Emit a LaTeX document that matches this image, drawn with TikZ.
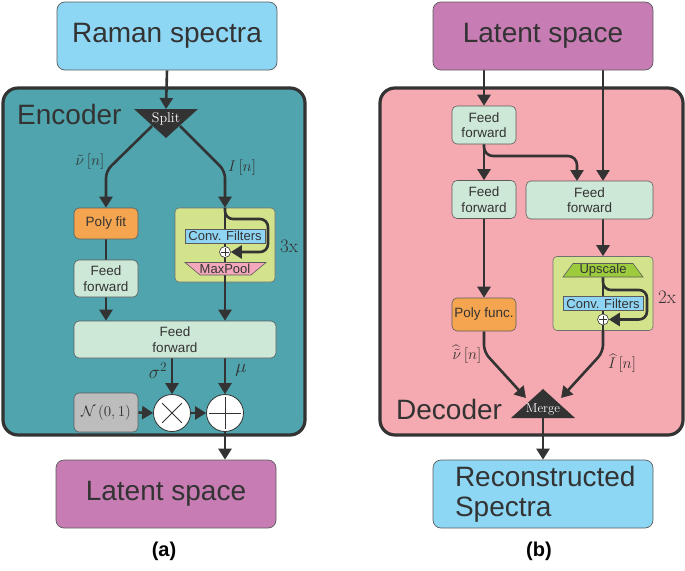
\RequirePackage{fix-cm}
\documentclass[tikz,border=0pt]{standalone}
\usepackage{amsmath}
\usepackage{fontspec}
\setsansfont{Liberation Sans}
\usetikzlibrary{arrows.meta,calc}
\pgfdeclarelayer{panel}
\pgfdeclarelayer{bg}
\pgfsetlayers{panel,bg,main}
\definecolor{cdark}{HTML}{333333}
\definecolor{cteal}{HTML}{4FA4AE}
\definecolor{cpinkp}{HTML}{F5A9B0}
\definecolor{cblue}{HTML}{8DD7F5}
\definecolor{cpurple}{HTML}{C77CB4}
\definecolor{cff}{HTML}{CDE8D6}
\definecolor{corange}{HTML}{F5A54F}
\definecolor{cblock}{HTML}{D3E38B}
\definecolor{cgray}{HTML}{BDBDBD}
\definecolor{cconv}{HTML}{8FD4F2}
\definecolor{cmax}{HTML}{F4A8BC}
\definecolor{cup}{HTML}{9DCB3E}
\tikzset{
  bigbox/.style={draw=cdark!80, line width=0.7pt, rounded corners=8pt, minimum width=220pt, minimum height=68pt, inner sep=0pt, text=cdark, font=\sffamily\fontsize{28}{30}\selectfont},
  smallbox/.style={draw=cdark!80, line width=0.6pt, rounded corners=5pt, minimum width=64pt, inner sep=0pt, text=cdark, align=center, font=\sffamily\fontsize{13.5}{15.5}\selectfont},
  panelbox/.style={draw=cdark, line width=3.2pt, rounded corners=15pt, inner sep=0pt},
  block/.style={draw=cdark!70, line width=0.6pt, fill=cblock, rounded corners=4pt, inner sep=0pt},
  convbox/.style={draw=cdark!80, line width=0.6pt, fill=cconv, minimum width=80pt, minimum height=14pt, inner sep=0pt, text=cdark, font=\sffamily\fontsize{13}{14}\selectfont},
  tinyop/.style={circle, draw=cdark, line width=0.6pt, fill=white, minimum size=11pt, inner sep=0pt},
  bigop/.style={circle, draw=cdark, line width=0.8pt, fill=white, minimum size=37pt, inner sep=0pt},
  lbl/.style={text=cdark, inner sep=0pt, font=\fontsize{15.5}{17}\selectfont},
  conn/.style={draw=cdark, line width=2.6pt},
  arr/.style={conn, -{Triangle[width=13pt,length=11pt]}},
  paneltitle/.style={text=cdark, inner sep=0pt, font=\sffamily\fontsize{28}{30}\selectfont},
}
\begin{document}
\begin{tikzpicture}[x=1pt,y=-1pt]
\useasboundingbox (0,0) rectangle (685,570);

% ---------------- Encoder ----------------
\node[bigbox, fill=cblue] (rs) at (167,36) {Raman spectra};
\begin{pgfonlayer}{panel}
\node[panelbox, fill=cteal, minimum width=302pt, minimum height=347pt] (enc) at (154,261.5) {};
\node[block, minimum width=100pt, minimum height=74pt] (cblk) at (225,245) {};
\end{pgfonlayer}
\node[paneltitle, anchor=west] (enct) at (17,114) {Encoder};

\fill[cdark] (134,109) -- (198,109) -- (166,138) -- cycle;
\node[text=white, inner sep=0pt, font=\fontsize{14}{15}\selectfont] (split) at (166,119) {Split};
\coordinate (splitT) at (166,109);
\coordinate (splitL) at (152,126);
\coordinate (splitR) at (180,126);

\node[smallbox, fill=corange, minimum height=31pt] (pf) at (106,223.5) {Poly fit};
\node[smallbox, fill=cff, minimum height=37pt] (ffa) at (106,278.5) {Feed\\forward};
\node[smallbox, fill=cff, minimum width=202pt, minimum height=37pt] (bigff) at (175,339.5) {Feed\\forward};
\node[convbox] (cf) at (225,236) {Conv. Filters};
\node[tinyop] (op1) at (225,252) {};
\draw[cdark, line width=0.6pt, shorten <=1.8pt, shorten >=1.8pt] (op1.north) -- (op1.south);
\draw[cdark, line width=0.6pt, shorten <=1.8pt, shorten >=1.8pt] (op1.west) -- (op1.east);
\filldraw[fill=cmax, draw=cdark!80, line width=0.6pt] (185,262.5) -- (266,262.5) -- (251,275) -- (200,275) -- cycle;
\node[text=cdark, inner sep=0pt, font=\sffamily\fontsize{13}{14}\selectfont] (mp) at (225,268.5) {MaxPool};
\node[text=cdark, inner sep=0pt, font=\fontsize{19}{22}\selectfont] (rep1) at (289,246) {3x};

\node[smallbox, fill=cgray, minimum height=39pt, font=\fontsize{15}{16}\selectfont] (nb) at (106,412.5) {$\mathcal{N}\left(0,1\right)$};
\node[bigop] (mul) at (172,413) {};
\node[bigop] (add) at (225,413) {};
\draw[cdark, line width=1pt, shorten <=5pt, shorten >=5pt] (mul.north west) -- (mul.south east);
\draw[cdark, line width=1pt, shorten <=5pt, shorten >=5pt] (mul.north east) -- (mul.south west);
\draw[cdark, line width=1pt, shorten <=3pt, shorten >=3pt] (add.north) -- (add.south);
\draw[cdark, line width=1pt, shorten <=3pt, shorten >=3pt] (add.west) -- (add.east);

\node[bigbox, fill=cpurple] (lat) at (166,494) {Latent space};
\node[text=black, inner sep=0pt, font=\sffamily\bfseries\fontsize{20}{22}\selectfont] (capa) at (164,551) {(a)};

\node[lbl] (lnu) at (90,162) {$\tilde{\nu}\,[n]$};
\node[lbl] (lI) at (242,168) {$I\,[n]$};
\node[lbl, font=\fontsize{19}{21}\selectfont] (lsig) at (158,371) {$\sigma^2$};
\node[lbl, font=\fontsize{19}{21}\selectfont] (lmu) at (241,370) {$\mu$};

\begin{pgfonlayer}{bg}
\draw[arr] (rs.south) -- (splitT);
\draw[arr, rounded corners=7pt] (splitL) -- (106,171) -- (pf.north);
\draw[arr, rounded corners=7pt] (splitR) -- (225,171) -- (cblk.north);
\draw[conn] (cblk.north) -- (cblk.south);
\draw[arr, rounded corners=8pt] (cblk.north) |- (268,219) |- (op1.east);
\draw[conn] (pf.south) -- (ffa.north);
\draw[arr] (ffa.south) -- (ffa.south |- bigff.north);
\draw[arr] (cblk.south) -- (cblk.south |- bigff.north);
\draw[arr] (mul.north |- bigff.south) -- (mul.north);
\draw[arr] (add.north |- bigff.south) -- (add.north);
\draw[arr] (nb.east) -- (mul.west);
\draw[arr] (mul.east) -- (add.west);
\draw[arr] (add.south) -- (add.south |- lat.north);
\end{pgfonlayer}

% ---------------- Decoder ----------------
\node[bigbox, fill=cpurple] (lat2) at (543,36) {Latent space};
\begin{pgfonlayer}{panel}
\node[panelbox, fill=cpinkp, minimum width=303pt, minimum height=347pt] (dec) at (531.5,261.5) {};
\node[block, minimum width=100pt, minimum height=74pt] (gb2) at (603,293.5) {};
\end{pgfonlayer}
\node[paneltitle, anchor=west] (dect) at (396,409) {Decoder};

\node[smallbox, fill=cff, minimum height=38pt] (d1) at (484,125) {Feed\\forward};
\node[smallbox, fill=cff, minimum height=38pt] (d2) at (484,199.5) {Feed\\forward};
\node[smallbox, fill=cff, minimum width=127pt, minimum height=38pt] (d3) at (589.5,200) {Feed\\forward};
\coordinate (d3a) at (577,181);
\coordinate (d3b) at (603,181);
\node[smallbox, fill=corange, minimum height=33pt] (pfn) at (484,314.5) {Poly func.};

\filldraw[fill=cup, draw=cdark!80, line width=0.6pt] (563,277) -- (643,277) -- (633,263.5) -- (573,263.5) -- cycle;
\node[text=cdark, inner sep=0pt, font=\sffamily\fontsize{13}{14}\selectfont] (ups) at (603,270.5) {Upscale};
\coordinate (upb) at (603,277);
\node[convbox] (cf2) at (603,303.5) {Conv. Filters};
\node[tinyop] (op2) at (603,319.5) {};
\draw[cdark, line width=0.6pt, shorten <=1.8pt, shorten >=1.8pt] (op2.north) -- (op2.south);
\draw[cdark, line width=0.6pt, shorten <=1.8pt, shorten >=1.8pt] (op2.west) -- (op2.east);
\node[text=cdark, inner sep=0pt, font=\fontsize{19}{22}\selectfont] (rep2) at (667,297) {2x};

\fill[cdark] (543,389) -- (575,418) -- (511,418) -- cycle;
\node[text=white, inner sep=0pt, font=\fontsize{13}{14}\selectfont] (merge) at (543,409) {Merge};
\coordinate (mergeL) at (526,398);
\coordinate (mergeR) at (561,398);
\coordinate (mergeB) at (543,418);

\node[bigbox, fill=cblue, align=left, text width=176pt, font=\sffamily\fontsize{28}{30}\selectfont] (rec) at (543,494) {Reconstructed\\Spectra};
\node[text=black, inner sep=0pt, font=\sffamily\bfseries\fontsize{20}{22}\selectfont] (capb) at (539,551) {(b)};

\node[lbl] (lnuh) at (467,354) {$\widehat{\tilde{\nu}}\,[n]$};
\node[lbl] (lIh) at (622,363) {$\widehat{I}\,[n]$};

\begin{pgfonlayer}{bg}
\draw[arr] (lat2.south -| d1.north) -- (d1.north);
\draw[arr] (lat2.south -| d3b) -- (d3b);
\draw[arr] (d1.south) -- (d2.north);
\draw[arr, rounded corners=9pt] (d1.south) |- (577,156) -- (d3a);
\draw[arr] (gb2.north |- d3.south) -- (gb2.north);
\draw[arr] (d2.south) -- (pfn.north);
\draw[conn] (upb) -- (gb2.south);
\draw[arr, rounded corners=8pt] (upb) |- (647,290) |- (op2.east);
\draw[arr, rounded corners=7pt] (pfn.south) -- (484,352) -- (mergeL);
\draw[arr, rounded corners=7pt] (gb2.south) -- (603,352) -- (mergeR);
\draw[arr] (mergeB) -- (rec.north);
\end{pgfonlayer}
\end{tikzpicture}
\end{document}
